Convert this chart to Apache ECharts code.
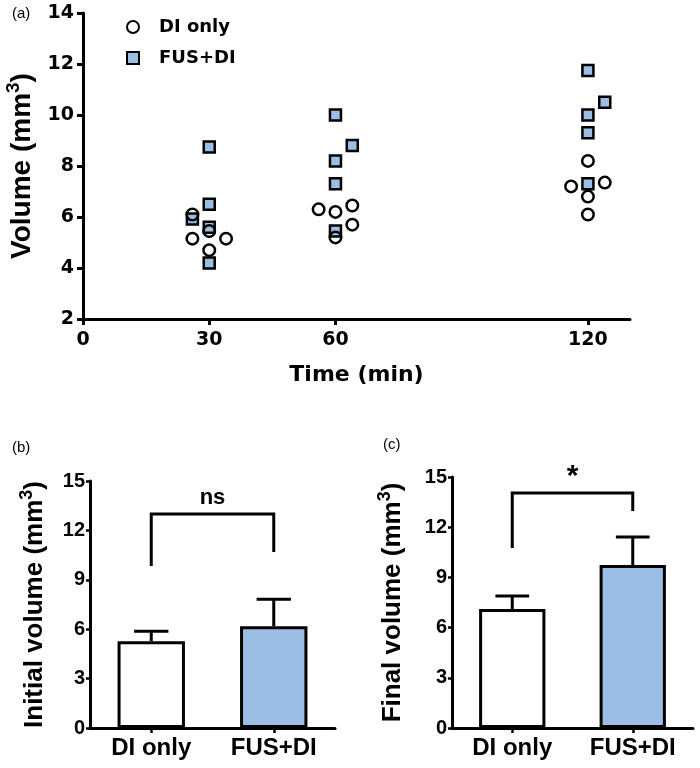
<!DOCTYPE html>
<html>
<head>
<meta charset="utf-8">
<script src="https://cdn.jsdelivr.net/npm/echarts@6/dist/echarts.min.js"></script>
<style>
  html, body { margin: 0; padding: 0; background: #fff; }
  #chart { width: 700px; height: 768px; }
</style>
</head>
<body>
<div id="chart"></div>
<script>
// panel (a): individual volumes, [time (min, jittered), volume (mm3)]
const diOnlyPoints = [
  [26, 6.1], [26, 5.15], [30, 5.45], [30, 4.7], [34, 5.15],
  [56, 6.3], [60, 6.2], [64, 6.45], [64, 5.7], [60, 5.2],
  [120, 8.2], [116, 7.2], [124, 7.35], [120, 6.8], [120, 6.1]
];
const fusPoints = [
  [30, 8.75], [30, 6.5], [26, 5.92], [30, 5.6], [30, 4.2],
  [60, 10.0], [64, 8.8], [60, 8.2], [60, 7.3], [60, 5.45],
  [120, 11.75], [124, 10.5], [120, 10.0], [120, 9.3], [120, 7.3]
];
const timeTicks = [0, 30, 60, 120];

// panels (b) and (c): mean + SEM
const groups = ['DI only', 'FUS+DI'];
const initialMean = [5.27, 6.18];
const initialSem = [0.61, 1.64];
const finalMean = [7.11, 9.74];
const finalSem = [0.78, 1.68];

// significance brackets: [bar height, left leg end, right leg end, label height]
const initialBracket = [13.0, 9.84, 10.69, 14.0];
const finalBracket = [14.05, 10.76, 12.97, 15.0];
const initialSig = 'ns';
const finalSig = '*';

const BLUE = '#9bbfe4';
const ARIAL = 'Liberation Sans';
const WIDE = 'DejaVu Sans';

const chart = echarts.init(document.getElementById('chart'), null, { renderer: 'canvas' });

const axisLine = { show: true, lineStyle: { color: '#000', width: 3 } };

function errorBars(mean, sem) {
  return mean.map((m, i) => [i, m, m + sem[i]]);
}

function renderError(params, api) {
  const base = api.coord([api.value(0), api.value(1)]);
  const top = api.coord([api.value(0), api.value(2)]);
  const hw = api.size([1, 0])[0] * 0.14;
  const style = { stroke: '#000', lineWidth: 3 };
  return {
    type: 'group',
    children: [
      { type: 'line', shape: { x1: base[0], y1: base[1], x2: top[0], y2: top[1] }, style },
      { type: 'line', shape: { x1: top[0] - hw, y1: top[1], x2: top[0] + hw, y2: top[1] }, style }
    ]
  };
}

function bracketSeries(idx, b, label, fontSize) {
  return {
    type: 'custom',
    xAxisIndex: idx, yAxisIndex: idx,
    z: 5,
    silent: true,
    data: [[0, b[0], b[1], b[2], b[3]]],
    renderItem: (params, api) => {
      const lt = api.coord([0, api.value(1)]);
      const rt = api.coord([1, api.value(1)]);
      const lb = api.coord([0, api.value(2)]);
      const rb = api.coord([1, api.value(3)]);
      const ty = api.coord([0, api.value(4)])[1];
      return {
        type: 'group',
        children: [
          {
            type: 'polyline',
            shape: { points: [lb, lt, rt, rb] },
            style: { stroke: '#000', lineWidth: 3, fill: null }
          },
          {
            type: 'text',
            x: (lt[0] + rt[0]) / 2, y: ty,
            style: {
              text: label, fill: '#000', fontSize, fontWeight: 'bold',
              fontFamily: ARIAL, align: 'center', verticalAlign: 'middle'
            }
          }
        ]
      };
    }
  };
}

function barData(mean) {
  const fills = ['#ffffff', BLUE];
  return mean.map((v, i) => ({ value: v, itemStyle: { color: fills[i] } }));
}

function supRich(size, supSize) {
  return {
    t: { fontSize: size, fontWeight: 'bold', fontFamily: ARIAL, color: '#000', lineHeight: size + 8 },
    s: { fontSize: supSize, fontWeight: 'bold', fontFamily: ARIAL, color: '#000', lineHeight: supSize, verticalAlign: 'top' }
  };
}

function catAxis(idx) {
  return {
    type: 'category', gridIndex: idx, data: groups,
    axisLine,
    axisTick: { show: true, alignWithLabel: true, length: 5, lineStyle: { color: '#000', width: 2.5 } },
    axisLabel: { color: '#000', fontSize: 24, fontWeight: 'bold', fontFamily: ARIAL, margin: 8 },
    splitLine: { show: false }
  };
}

function volAxis(idx, title) {
  return {
    type: 'value', gridIndex: idx, min: 0, max: 15, interval: 3,
    name: '{t|' + title + ' (mm}{s|3}{t|)}',
    nameLocation: 'middle', nameGap: idx === 1 ? 38 : 42,
    nameTextStyle: { rich: supRich(26, 18) },
    axisLine,
    axisTick: { show: true, length: 4, lineStyle: { color: '#000', width: 2.5 } },
    axisLabel: { color: '#000', fontSize: 20, fontWeight: 'bold', fontFamily: ARIAL, margin: 5 },
    splitLine: { show: false }
  };
}

const option = {
  animation: false,
  backgroundColor: '#fff',
  title: [
    { text: '(a)', left: 12, top: 6, padding: 0, textStyle: { fontSize: 15, fontWeight: 'normal', fontFamily: ARIAL, color: '#000' } },
    { text: '(b)', left: 12, top: 440, padding: 0, textStyle: { fontSize: 15, fontWeight: 'normal', fontFamily: ARIAL, color: '#000' } },
    { text: '(c)', left: 383, top: 437, padding: 0, textStyle: { fontSize: 15, fontWeight: 'normal', fontFamily: ARIAL, color: '#000' } }
  ],
  legend: {
    orient: 'vertical', left: 121, top: 13,
    itemWidth: 12, itemHeight: 12, itemGap: 13,
    data: ['DI only', 'FUS+DI'],
    textStyle: { fontSize: 18, fontWeight: 'bold', fontFamily: WIDE, color: '#000', padding: [0, 0, 0, 15] }
  },
  grid: [
    { left: 83, top: 13, right: 70, bottom: 449, outerBoundsMode: 'none' },
    { left: 90, top: 481, right: 365, bottom: 40, outerBoundsMode: 'none' },
    { left: 452, top: 477, right: 7, bottom: 40, outerBoundsMode: 'none' }
  ],
  xAxis: [
    {
      type: 'value', gridIndex: 0, min: 0, max: 130, interval: 30,
      name: 'Time (min)', nameLocation: 'middle', nameGap: 45,
      nameTextStyle: { fontSize: 22, fontWeight: 'bold', fontFamily: WIDE, color: '#000' },
      axisLine,
      axisTick: { show: true, length: 6, customValues: timeTicks, lineStyle: { color: '#000', width: 3 } },
      axisLabel: { color: '#000', fontSize: 19, fontWeight: 'bold', fontFamily: WIDE, margin: 12, customValues: timeTicks },
      splitLine: { show: false }
    },
    catAxis(1),
    catAxis(2)
  ],
  yAxis: [
    {
      type: 'value', gridIndex: 0, min: 2, max: 14, interval: 2,
      name: '{t|Volume (mm}{s|3}{t|)}',
      nameLocation: 'middle', nameGap: 42,
      nameTextStyle: { rich: supRich(28, 19) },
      axisLine,
      axisTick: { show: true, length: 6, lineStyle: { color: '#000', width: 3 } },
      axisLabel: { color: '#000', fontSize: 19, fontWeight: 'bold', fontFamily: WIDE, margin: 9 },
      splitLine: { show: false }
    },
    volAxis(1, 'Initial volume'),
    volAxis(2, 'Final volume')
  ],
  series: [
    {
      name: 'FUS+DI', type: 'scatter', xAxisIndex: 0, yAxisIndex: 0, z: 2,
      symbol: 'rect', symbolSize: 11,
      itemStyle: { color: BLUE, borderColor: '#000', borderWidth: 2.5, opacity: 1 },
      data: fusPoints
    },
    {
      name: 'DI only', type: 'scatter', xAxisIndex: 0, yAxisIndex: 0, z: 3,
      symbol: 'circle', symbolSize: 11.5,
      itemStyle: { color: 'rgba(255,255,255,0)', borderColor: '#000', borderWidth: 2.5, opacity: 1 },
      data: diOnlyPoints
    },
    {
      type: 'bar', xAxisIndex: 1, yAxisIndex: 1, barWidth: '55%',
      itemStyle: { borderColor: '#000', borderWidth: 3 },
      data: barData(initialMean)
    },
    {
      type: 'custom', xAxisIndex: 1, yAxisIndex: 1, z: 4,
      renderItem: renderError, data: errorBars(initialMean, initialSem)
    },
    bracketSeries(1, initialBracket, initialSig, 22),
    {
      type: 'bar', xAxisIndex: 2, yAxisIndex: 2, barWidth: '55%',
      itemStyle: { borderColor: '#000', borderWidth: 3 },
      data: barData(finalMean)
    },
    {
      type: 'custom', xAxisIndex: 2, yAxisIndex: 2, z: 4,
      renderItem: renderError, data: errorBars(finalMean, finalSem)
    },
    bracketSeries(2, finalBracket, finalSig, 30)
  ]
};

chart.setOption(option);
</script>
</body>
</html>
